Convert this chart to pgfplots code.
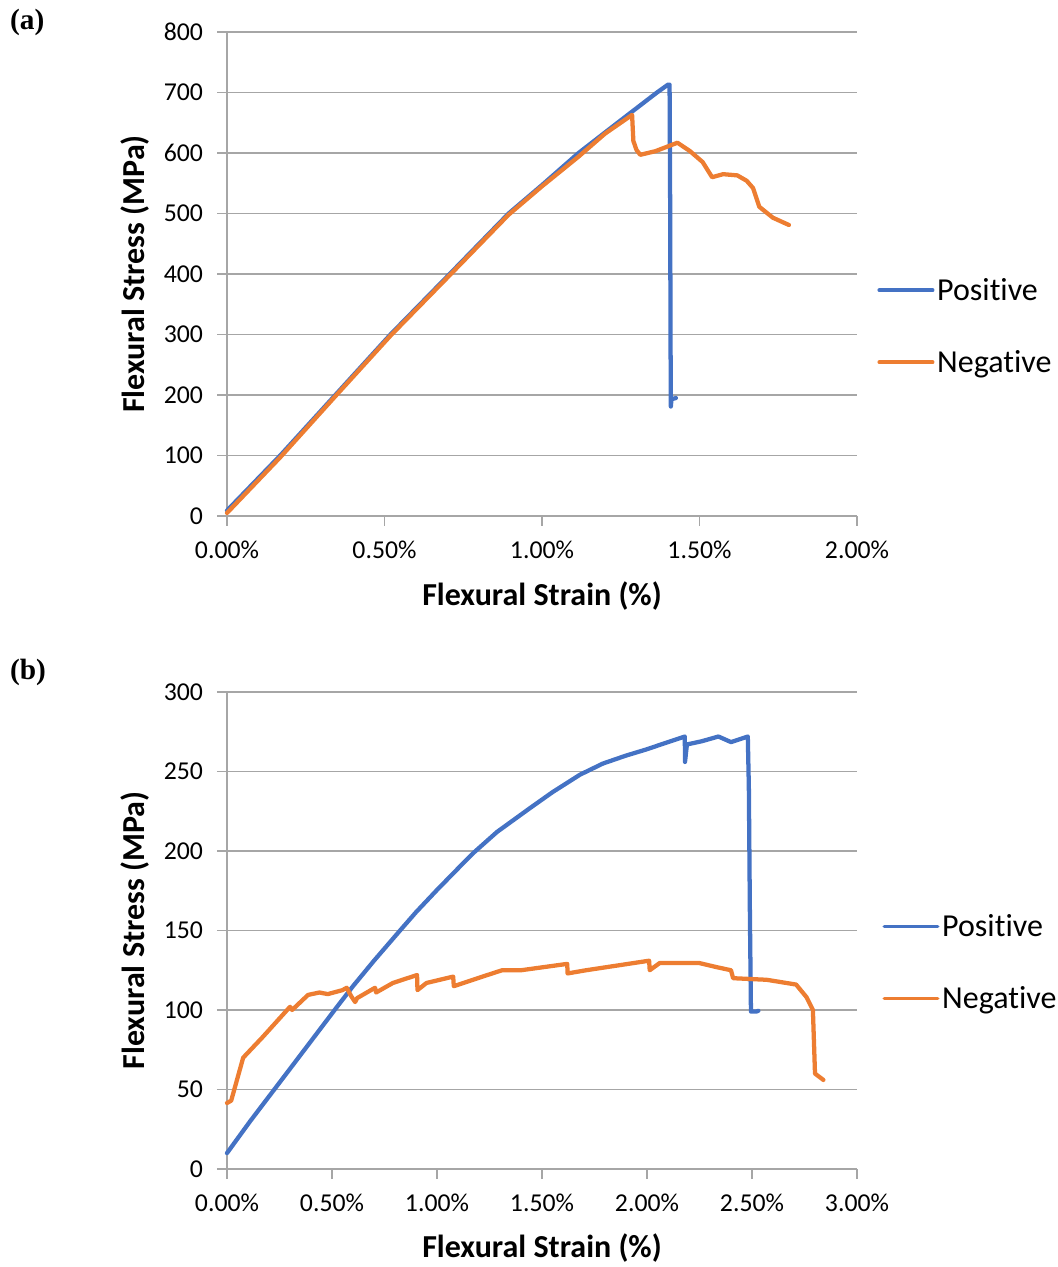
\documentclass[border=0pt]{standalone}
\usepackage{pgfplots}
\pgfplotsset{compat=1.18}
\usepackage{fontspec}
\setmainfont{Carlito}[Ligatures=NoCommon]
\newfontfamily\serifbf{Liberation Serif}
\definecolor{cblue}{RGB}{68,114,196}
\definecolor{corange}{RGB}{237,125,49}
\definecolor{gridgray}{RGB}{166,166,166}
\pgfplotsset{
  common/.style={
    scale only axis,
    width=472.5pt,
    axis x line=bottom, axis y line=left,
    axis line style={-, gridgray, line width=0.8pt},
    ymajorgrids, major grid style={gridgray, line width=0.8pt},
    tick style={gridgray, line width=0.8pt},
    tick align=outside, major tick length=7.5pt,
    ticklabel style={font=\fontsize{19.3}{22}\selectfont, text=black},
    xticklabel style={yshift=-8pt},
    yticklabel style={xshift=-7pt},
    label style={font=\fontsize{24}{28}\selectfont\bfseries, text=black},
    xlabel={Flexural Strain (\%)},
    ylabel={Flexural Stress (MPa)},
    xlabel style={at={(axis description cs:0.5,-0.165)}, anchor=center},
    ylabel style={at={(axis description cs:-0.146,0.5)}, anchor=center},
    legend cell align=left,
    legend style={draw=none, fill=none, font=\fontsize{24}{28}\selectfont, anchor=west, row sep=32pt, inner sep=0pt},
    legend image code/.code={\draw[#1,line width=2.8pt] (0pt,0pt) -- (40pt,0pt);},
    every axis plot/.append style={line width=3.2pt, line join=round, line cap=round},
    clip=false,
  }
}
\begin{document}
\begin{tikzpicture}
\useasboundingbox (0,0) rectangle (792.75pt,950.25pt);
% (a)
\node[font=\serifbf\fontsize{22}{25}\selectfont\bfseries] at (20.5pt,933.5pt) {(a)};
\begin{axis}[common,
  at={(170.25pt,563.25pt)}, anchor=south west,
  height=363pt,
  xmin=0, xmax=2, ymin=0, ymax=800,
  xtick={0,0.5,1,1.5,2},
  xticklabels={0.00\%,0.50\%,1.00\%,1.50\%,2.00\%},
  ytick={0,100,...,800},
  yticklabels={0,100,200,300,400,500,600,700,800},
  legend style={at={(1.032,0.392)}},
]
\addplot[cblue] coordinates {
(0,9) (0.169,100) (0.344,200) (0.519,300) (0.707,400) (0.894,500) (1.0,547)
(1.116,600) (1.24,650) (1.365,700) (1.40,713) (1.405,713) (1.407,500)
(1.408,300) (1.409,181) (1.411,193) (1.425,195)
};
\addlegendentry{Positive}
\addplot[corange] coordinates {
(0,5) (0.169,97) (0.344,198) (0.519,298) (0.707,398) (0.894,498) (1.0,545)
(1.116,594) (1.2,632) (1.286,663) (1.29,620) (1.30,605) (1.312,597)
(1.36,603) (1.43,617) (1.47,603) (1.51,585) (1.54,560) (1.575,565)
(1.62,563) (1.65,554) (1.67,542) (1.69,511) (1.733,493) (1.784,481)
};
\addlegendentry{Negative}
\end{axis}
% (b)
\node[font=\serifbf\fontsize{22}{25}\selectfont\bfseries] at (21pt,446.25pt) {(b)};
\begin{axis}[common,
  at={(170.25pt,73.5pt)}, anchor=south west,
  height=357.75pt,
  xmin=0, xmax=3, ymin=0, ymax=300,
  xtick={0,0.5,1,1.5,2,2.5,3},
  xticklabels={0.00\%,0.50\%,1.00\%,1.50\%,2.00\%,2.50\%,3.00\%},
  ytick={0,50,...,300},
  yticklabels={0,50,100,150,200,250,300},
  legend style={at={(1.04,0.433)}},
]
\addplot[cblue] coordinates {
(0,10) (0.11,30) (0.3,63) (0.524,102) (0.6,115) (0.7,131) (0.824,150)
(0.9,161.5) (1.0,175.5) (1.1,189) (1.171,198.5) (1.286,212) (1.443,227)
(1.55,237) (1.681,248) (1.79,255) (1.9,260) (2.0,264) (2.1,268.5)
(2.18,272) (2.181,256) (2.19,267) (2.26,269)
(2.34,272) (2.40,268.5) (2.48,272) (2.485,240) (2.49,160) (2.495,99)
(2.52,99) (2.53,99.5)
};
\addlegendentry{Positive}
\addplot[corange] coordinates {
(0,41.5) (0.02,43) (0.077,70) (0.17,83) (0.30,102) (0.31,100) (0.386,109.5)
(0.44,111) (0.48,110) (0.55,112.5) (0.57,114) (0.59,109) (0.61,105)
(0.62,107.5) (0.705,114) (0.71,111) (0.79,117) (0.905,122) (0.907,112.5)
(0.95,117) (1.077,121) (1.08,115) (1.24,122) (1.31,125) (1.40,125)
(1.62,129) (1.622,123) (1.71,125) (2.01,131) (2.013,125) (2.06,129.5)
(2.157,129.5) (2.25,129.5) (2.33,127) (2.40,125) (2.41,120) (2.57,119)
(2.71,116) (2.76,108) (2.79,100) (2.795,80) (2.80,60) (2.84,56)
};
\addlegendentry{Negative}
\end{axis}
\end{tikzpicture}
\end{document}
